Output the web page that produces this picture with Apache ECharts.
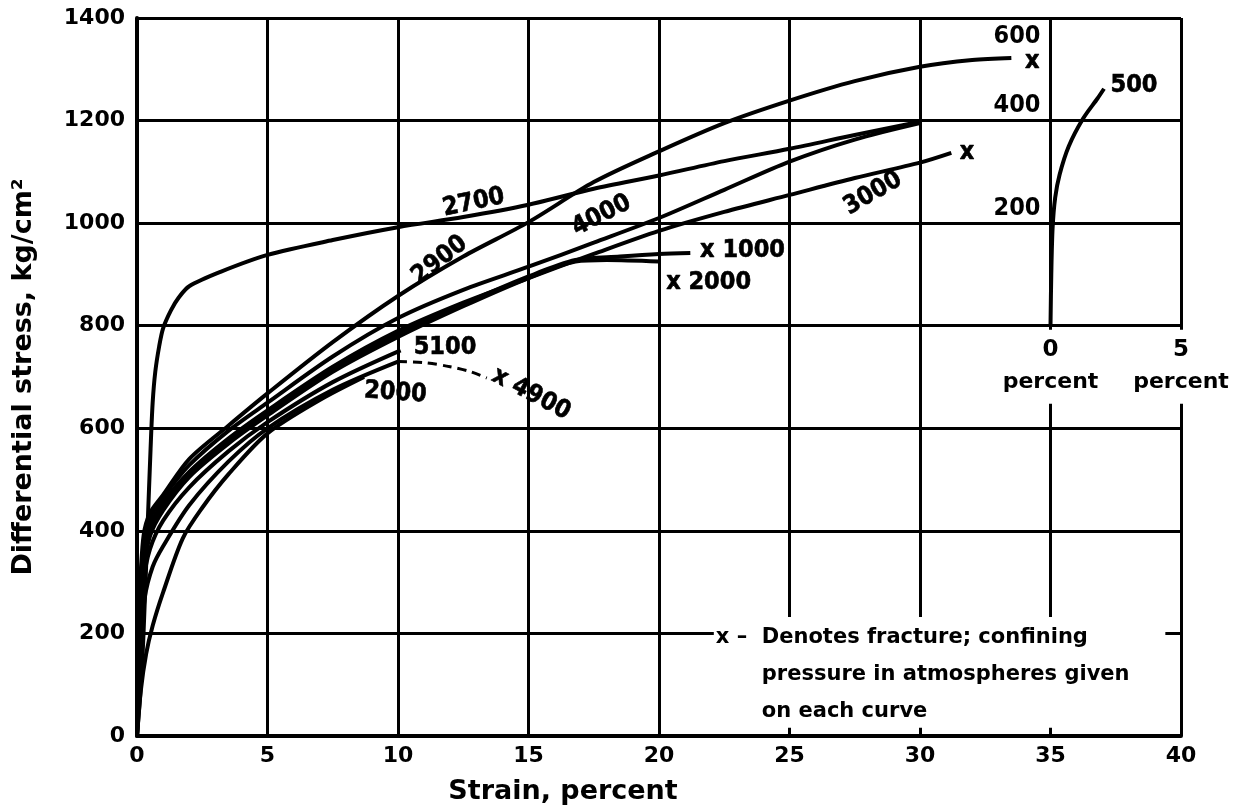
<!DOCTYPE html>
<html><head><meta charset="utf-8">
<script src="https://cdn.jsdelivr.net/npm/echarts@6/dist/echarts.min.js"></script>
<style>html,body{margin:0;padding:0;background:#fff}#c{width:1253px;height:806px}</style>
</head><body><div id="c"></div>
<script>
// ---------- tick labels ----------
const xTickLabels = ['0','5','10','15','20','25','30','35','40'];
const yTickLabels = ['0','200','400','600','800','1000','1200','1400'];
const insetXTickLabels = ['0','5'];
const insetYTickLabels = ['0','200','400','600'];

// ---------- curves: [strain %, differential stress kg/cm2] ----------
const c2700 = [[0,0],[0.15,100],[0.25,200],[0.4,400],[0.52,560],[0.6,650],[0.7,710],[0.85,760],[1.0,795],[1.3,830],[1.6,855],[2,877],[3.2,905],[5,938],[7.5,967],[10,992],[12.5,1012],[15,1036],[17.5,1067],[20,1093],[22.5,1121],[25,1145],[27.5,1172],[30,1198]];
const c2900 = [[0,0],[0.05,150],[0.1,270],[0.25,390],[0.5,435],[1,470],[2,540],[3.5,605],[5,668],[7.5,768],[10,858],[12.5,935],[15,1002],[17.5,1080],[20,1140],[22.5,1195],[25,1239],[27.5,1277],[30,1305],[32,1318],[33.5,1322]];
const c4000 = [[0,0],[0.1,250],[0.25,370],[0.5,425],[1,465],[2,528],[3.5,595],[5,650],[7.5,740],[10,815],[12.5,870],[15,915],[17.5,962],[20,1010],[22.5,1065],[25,1120],[27.5,1163],[30,1195]];
const c3000 = [[0,0],[0.1,230],[0.25,350],[0.5,410],[1,455],[2,515],[3.5,580],[5,635],[7.5,720],[10,790],[12.5,845],[15,893],[17.5,940],[20,985],[22.5,1022],[25,1055],[27.5,1088],[30,1118],[31.2,1137]];
const c1000 = [[0,0],[0.1,220],[0.25,340],[0.5,400],[1,450],[2,512],[3.5,578],[5,630],[7.5,715],[10,785],[12.5,842],[15,896],[16.8,928],[18.5,935],[20,940],[21.2,942]];
const c2000a = [[0,0],[0.1,200],[0.25,320],[0.5,390],[1,440],[2,505],[3.5,570],[5,625],[7.5,710],[10,778],[12.5,838],[15,893],[16.8,925],[18,928],[20,925]];
const c5100 = [[0,0],[0.1,180],[0.25,300],[0.5,365],[1,420],[2,485],[3.5,555],[5,612],[7.5,690],[10.1,752]];
const c4900 = [[0,0],[0.15,170],[0.3,270],[0.6,330],[1,370],[2,450],[3.5,535],[5,600],[7.5,675],[10,730]];
const c4900dash = [[10,730],[11,728],[12,720],[12.8,710],[13.4,698]];
const c2000b = [[0,0],[0.15,90],[0.35,160],[0.6,215],[1,280],[1.75,385],[2.5,445],[3.5,510],[5,590],[7,655],[8.7,700]];
// inset (strain 0-5 %, stress 0-600)
const c500 = [[0,0],[0.03,100],[0.08,190],[0.18,250],[0.35,295],[0.7,350],[1.25,404],[1.8,443],[2.05,462]];

// ---------- curve annotations (text, anchor in data units, angle) ----------
const curveLabels = [
  ['2700', 12.9, 1040, 12],
  ['2900', 11.6, 928, 38],
  ['4000', 17.8, 1015, 27],
  ['3000', 28.2, 1058, 30],
  ['5100', 11.8, 757, 0],
  ['2000', 9.9, 669, -4],
  ['x 4900', 15.1, 667, -28],
  ['x 1000', 23.2, 946, 0],
  ['x 2000', 21.9, 885, 0],
  ['x', 34.3, 1315, 0],
  ['x', 31.8, 1138, 0]
];
const insetLabels = [['500', 3.2, 469, 0]];
const noteLines = ['Denotes fracture; confining', 'pressure in atmospheres given', 'on each curve'];

// ---------- layout ----------
const W = 1253, H = 806;
const GL = 137, GR = 72, GT = 18, GB = 70;
const PW = W - GL - GR, PH = H - GT - GB;
const FB = 'DejaVu Sans', FC = 'DejaVu Sans Condensed';
const insetLeft = GL + PW * 35 / 40;
const insetBottom = H - GT - PH * 600 / 1400;

const chart = echarts.init(document.getElementById('c'), null, {renderer: 'canvas'});

function line(data, extra) {
  return Object.assign({
    type: 'line', data: data, xAxisIndex: 0, yAxisIndex: 0, symbol: 'none',
    smooth: 0.3, lineStyle: {color: '#000', width: 4}, z: 3, silent: true
  }, extra || {});
}
function labelSeries(list, axisIdx) {
  return {
    type: 'scatter', xAxisIndex: axisIdx, yAxisIndex: axisIdx, symbolSize: 1, silent: true, z: 6,
    itemStyle: {color: 'rgba(0,0,0,0)'},
    data: list.map(l => ({value: [l[1], l[2]], label: {formatter: l[0], rotate: l[3]}})),
    label: {show: true, position: 'inside', fontFamily: FC, fontWeight: 'bold', fontSize: 25,
            color: '#000', opacity: 1, textBorderColor: '#000', textBorderWidth: 0.6}
  };
}

const axisFont = {fontFamily: FB, fontWeight: 'bold', fontSize: 22, color: '#000'};

const option = {
  animation: false,
  backgroundColor: '#fff',
  grid: [
    {left: GL, right: GR, top: GT, bottom: GB, containLabel: false, outerBoundsMode: 'none'},
    {left: insetLeft, right: GR, top: GT, bottom: insetBottom, containLabel: false, outerBoundsMode: 'none'}
  ],
  xAxis: [
    {type: 'value', gridIndex: 0, min: 0, max: 40, interval: 5,
     axisLine: {show: true, onZero: false, lineStyle: {color: '#000', width: 4}},
     axisTick: {show: false},
     splitLine: {show: true, showMinLine: true, showMaxLine: true, lineStyle: {color: '#000', width: 3}},
     axisLabel: Object.assign({margin: 9, formatter: v => xTickLabels[Math.round(v / 5)]}, axisFont),
     name: 'Strain, percent', nameLocation: 'middle', nameGap: 42,
     nameTextStyle: {fontFamily: FB, fontWeight: 'bold', fontSize: 27, color: '#000', padding: [0, 192, 0, 0]}},
    {type: 'value', gridIndex: 1, min: 0, max: 5, interval: 5, z: 5,
     axisLine: {show: false}, axisTick: {show: false}, splitLine: {show: false},
     axisLabel: {margin: 4, backgroundColor: '#fff', padding: [2, 4, 6, 4],
       formatter: v => '{n|' + insetXTickLabels[Math.round(v / 5)] + '}\n{p|percent}',
       rich: {n: {fontFamily: FB, fontWeight: 'bold', fontSize: 23, lineHeight: 36, color: '#000'},
              p: {fontFamily: FB, fontWeight: 'bold', fontSize: 22, lineHeight: 30, color: '#000'}}}}
  ],
  yAxis: [
    {type: 'value', gridIndex: 0, min: 0, max: 1400, interval: 200,
     axisLine: {show: true, onZero: false, lineStyle: {color: '#000', width: 4}},
     axisTick: {show: false},
     splitLine: {show: true, showMinLine: true, showMaxLine: true, lineStyle: {color: '#000', width: 3}},
     axisLabel: Object.assign({margin: 12, formatter: v => yTickLabels[Math.round(v / 200)]}, axisFont),
     name: 'Differential stress, kg/cm\u00B2', nameLocation: 'middle', nameGap: 100, nameRotate: 90,
     nameTextStyle: {fontFamily: FB, fontWeight: 'bold', fontSize: 27, color: '#000'}},
    {type: 'value', gridIndex: 1, min: 0, max: 600, interval: 200, z: 5,
     axisLine: {show: false}, axisTick: {show: false}, splitLine: {show: false},
     axisLabel: {margin: 10, showMinLabel: false,
       formatter: v => (v === 600 ? '{d|' : '{u|') + insetYTickLabels[Math.round(v / 200)] + '}',
       rich: {u: {fontFamily: FC, fontWeight: 'bold', fontSize: 25, color: '#000', padding: [0, 0, 30, 0]},
              d: {fontFamily: FC, fontWeight: 'bold', fontSize: 25, color: '#000', padding: [36, 0, 0, 0]}}}}
  ],
  series: [
    line(c2700), line(c2900), line(c4000), line(c3000), line(c1000), line(c2000a),
    line(c5100), line(c4900), line(c2000b),
    line(c4900dash, {lineStyle: {color: '#000', width: 3, type: [9, 6]}}),
    line(c500, {xAxisIndex: 1, yAxisIndex: 1}),
    labelSeries(curveLabels, 0),
    labelSeries(insetLabels, 1)
  ]
};
chart.setOption(option);

// note box: white panel covering the grid, placed with the main scales
const b1 = chart.convertToPixel({gridIndex: 0}, [22.1, 232]);
const b2 = chart.convertToPixel({gridIndex: 0}, [39.4, 16]);
const tx = b1[0] + 2;
const noteFont = 'bold 21px "DejaVu Sans"';
chart.setOption({
  graphic: [
    {type: 'rect', z: 20, silent: true, shape: {x: b1[0], y: b1[1], width: b2[0] - b1[0], height: b2[1] - b1[1]}, style: {fill: '#fff'}},
    {type: 'text', z: 21, silent: true, style: {text: 'x \u2013', x: tx, y: b1[1] + 21, font: noteFont, fill: '#000', verticalAlign: 'middle'}},
    {type: 'text', z: 21, silent: true, style: {text: noteLines[0], x: tx + 46, y: b1[1] + 21, font: noteFont, fill: '#000', verticalAlign: 'middle'}},
    {type: 'text', z: 21, silent: true, style: {text: noteLines[1], x: tx + 46, y: b1[1] + 58, font: noteFont, fill: '#000', verticalAlign: 'middle'}},
    {type: 'text', z: 21, silent: true, style: {text: noteLines[2], x: tx + 46, y: b1[1] + 95, font: noteFont, fill: '#000', verticalAlign: 'middle'}}
  ]
});
</script>
</body></html>
